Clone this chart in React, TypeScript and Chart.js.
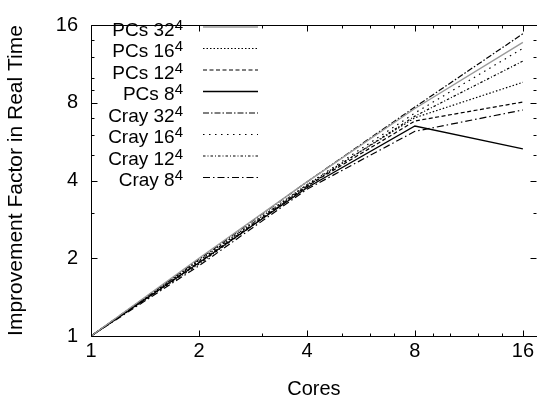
import { useEffect, useRef } from "react";
import { Chart, registerables } from "chart.js";

Chart.register(...registerables);

// ---- data ----
const CORES = [1, 2, 4, 8, 16];
const X_TICKS = [1, 2, 4, 8, 16];
const Y_TICKS = [1, 2, 4, 8, 16];
const MINOR_TICKS = [3, 5, 6, 7, 9, 10, 12, 14];

const SERIES_LABELS = [
  "PCs 32⁴",
  "PCs 16⁴",
  "PCs 12⁴",
  "PCs 8⁴",
  "Cray 32⁴",
  "Cray 16⁴",
  "Cray 12⁴",
  "Cray 8⁴",
];

const PCS_32 = [1, 2.0, 3.95, 7.6, 13.7];
const PCS_16 = [1, 1.96, 3.85, 7.0, 9.6];
const PCS_12 = [1, 1.93, 3.8, 6.8, 8.05];
const PCS_8 = [1, 1.92, 3.75, 6.5, 5.3];
const CRAY_32 = [1, 1.98, 3.95, 7.7, 14.8];
const CRAY_16 = [1, 1.95, 3.85, 7.3, 13.0];
const CRAY_12 = [1, 1.9, 3.8, 7.1, 11.6];
const CRAY_8 = [1, 1.87, 3.7, 6.2, 7.5];

const SERIES = [PCS_32, PCS_16, PCS_12, PCS_8, CRAY_32, CRAY_16, CRAY_12, CRAY_8];

const COLORS = ["#9a9a9a", "#000", "#000", "#000", "#000", "#000", "#000", "#000"];
const WIDTHS = [1.4, 1.2, 1.2, 1.3, 1.2, 1.2, 1.2, 1.2];
const DASHES: number[][] = [
  [],
  [1.5, 2],
  [4, 2.5],
  [],
  [6, 2, 1.5, 2],
  [1.5, 4.5],
  [2.5, 2, 1, 2],
  [7, 3, 1.5, 3],
];

const FONT = "'Liberation Sans', Arial, Helvetica, sans-serif";

const frameTicks = {
  id: "frameTicks",
  afterDatasetsDraw(chart: any) {
    const { ctx, chartArea: a, scales } = chart;
    const x = scales.x;
    const y = scales.y;
    const L = Math.round(a.left) + 0.5;
    const R = Math.round(a.right) + 0.5;
    const T = Math.round(a.top) + 0.5;
    const B = Math.round(a.bottom) + 0.5;
    ctx.save();
    ctx.strokeStyle = "#000";
    ctx.lineWidth = 1;
    ctx.setLineDash([]);
    ctx.beginPath();
    ctx.moveTo(R, T);
    ctx.lineTo(L, T);
    ctx.lineTo(L, B);
    ctx.lineTo(R, B);
    ctx.stroke();
    const drawX = (v: number, len: number) => {
      const px = Math.round(x.getPixelForValue(v)) + 0.5;
      ctx.moveTo(px, B);
      ctx.lineTo(px, B - len);
      ctx.moveTo(px, T);
      ctx.lineTo(px, T + len);
    };
    const drawY = (v: number, len: number) => {
      const py = Math.round(y.getPixelForValue(v)) + 0.5;
      ctx.moveTo(L, py);
      ctx.lineTo(L + len, py);
      ctx.moveTo(R - 1, py);
      ctx.lineTo(R - 1 - len, py);
    };
    ctx.beginPath();
    X_TICKS.forEach((v) => drawX(v, 6));
    MINOR_TICKS.forEach((v) => drawX(v, 3));
    Y_TICKS.forEach((v) => drawY(v, 6));
    MINOR_TICKS.forEach((v) => drawY(v, 3));
    ctx.stroke();
    ctx.restore();
  },
};

const keyPlugin = {
  id: "gnuKey",
  afterDatasetsDraw(chart: any) {
    const { ctx } = chart;
    const sets = chart.data.datasets;
    ctx.save();
    sets.forEach((ds: any, i: number) => {
      const ly = 27 + i * 21.5;
      ctx.beginPath();
      ctx.strokeStyle = ds.borderColor;
      ctx.lineWidth = ds.borderWidth;
      ctx.setLineDash(ds.borderDash || []);
      ctx.moveTo(203, ly);
      ctx.lineTo(258, ly);
      ctx.stroke();
      ctx.setLineDash([]);
      const label: string = ds.label;
      const m = label.match(/^(.*?)([⁰¹²³⁴⁵⁶⁷⁸⁹]+)$/);
      const base = m ? m[1] : label;
      const supMap: Record<string, string> = { "⁰": "0", "¹": "1", "²": "2", "³": "3", "⁴": "4", "⁵": "5", "⁶": "6", "⁷": "7", "⁸": "8", "⁹": "9" };
      const sup = m ? m[2].split("").map((c) => supMap[c]).join("") : "";
      ctx.fillStyle = "#000";
      ctx.textBaseline = "alphabetic";
      ctx.textAlign = "right";
      ctx.font = `15px ${FONT}`;
      const supW = ctx.measureText(sup).width;
      const right = 183;
      const baseY = ly + 8.5;
      ctx.fillText(sup, right, baseY - 6);
      ctx.font = `19px ${FONT}`;
      ctx.fillText(base, right - supW, baseY);
    });
    ctx.restore();
  },
};

export default function App() {
  const ref = useRef<HTMLCanvasElement | null>(null);
  useEffect(() => {
    document.body.style.margin = "0";
    const canvas = ref.current;
    if (!canvas) return;
    const datasets = SERIES.map((s, i) => ({
      label: SERIES_LABELS[i],
      data: CORES.map((c, j) => ({ x: c, y: s[j] })),
      borderColor: COLORS[i],
      backgroundColor: COLORS[i],
      borderWidth: WIDTHS[i],
      borderDash: DASHES[i],
      pointRadius: 0,
      tension: 0,
      fill: false,
    }));
    const chart = new Chart(canvas, {
      type: "line",
      data: { datasets },
      plugins: [frameTicks, keyPlugin],
      options: {
        animation: false,
        responsive: false,
        devicePixelRatio: 1,
        layout: { padding: { top: 11, right: 0, left: 0, bottom: 0 } },
        plugins: {
          legend: { display: false },
          tooltip: { enabled: false },
        },
        scales: {
          x: {
            type: "logarithmic",
            min: 1,
            max: 17.5,
            grid: { display: false, drawTicks: false },
            border: { display: false },
            afterBuildTicks: (s: any) => {
              s.ticks = X_TICKS.map((v) => ({ value: v }));
            },
            afterFit: (s: any) => {
              s.height = 68;
            },
            ticks: {
              color: "#000",
              font: { size: 20, family: FONT },
              padding: 3,
              maxRotation: 0,
              autoSkip: false,
              callback: (v: any) => String(v),
            },
            title: {
              display: true,
              text: "Cores",
              color: "#000",
              font: { size: 20, family: FONT },
              padding: { top: 0, bottom: 3 },
            },
          },
          y: {
            type: "logarithmic",
            min: 1,
            max: 16,
            grid: { display: false, drawTicks: false },
            border: { display: false },
            afterBuildTicks: (s: any) => {
              s.ticks = Y_TICKS.map((v) => ({ value: v }));
            },
            afterFit: (s: any) => {
              s.width = 91;
            },
            ticks: {
              color: "#000",
              font: { size: 20, family: FONT },
              padding: 13,
              autoSkip: false,
              callback: (v: any) => String(v),
            },
            title: {
              display: true,
              text: "Improvement Factor in Real Time",
              color: "#000",
              font: { size: 21, family: FONT },
              padding: { top: 4, bottom: 0 },
            },
          },
        },
      },
    });
    return () => chart.destroy();
  }, []);
  return <canvas ref={ref} width={537} height={404} style={{ display: "block" }} />;
}
